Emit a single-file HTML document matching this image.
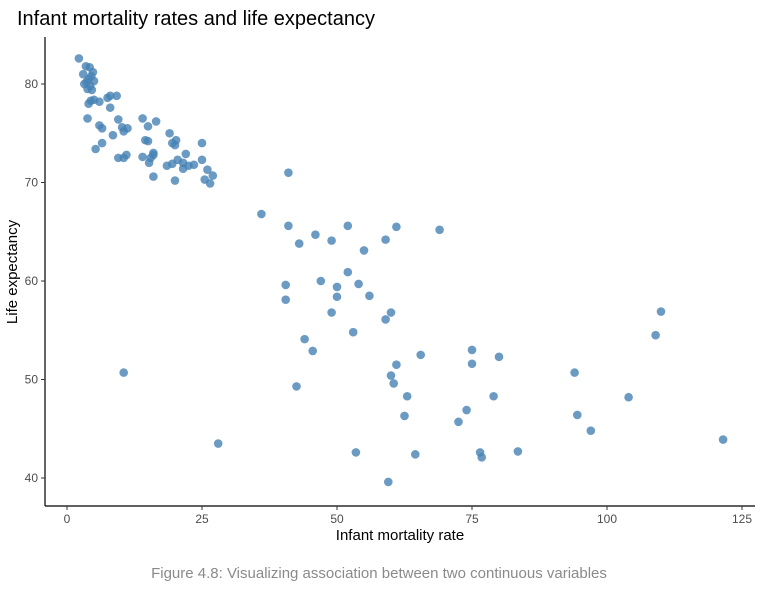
<!DOCTYPE html>
<html><head><meta charset="utf-8"><style>
body{margin:0;background:#fff;font-family:"Liberation Sans",sans-serif;}
svg text{font-family:"Liberation Sans",sans-serif;}
</style></head><body>
<svg id="chart" width="768" height="587" xmlns="http://www.w3.org/2000/svg">
<text x="17" y="25" font-size="20" fill="#000">Infant mortality rates and life expectancy</text>
<line x1="45" y1="37" x2="45" y2="506" stroke="#000" stroke-width="1.2"/>
<line x1="45" y1="506" x2="755" y2="506" stroke="#000" stroke-width="1.2"/>
<g id="xt"></g><g id="yt"></g><g id="pts"></g>
<text x="400" y="540" font-size="15" text-anchor="middle">Infant mortality rate</text>
<text transform="translate(17,272) rotate(-90)" font-size="15" text-anchor="middle">Life expectancy</text>
<text x="379" y="578" font-size="15" fill="#8a8a8a" text-anchor="middle">Figure 4.8: Visualizing association between two continuous variables</text>
</svg>
<script>
const xTicks=[0,25,50,75,100,125];
const yTicks=[40,50,60,70,80];
const infantMortality=[2.2,3,3.2,3.5,4,4.2,4.5,4.8,3.8,4.3,5,4.6,3.6,4,4.4,5,6,7.5,8,9.2,8,3.8,6,6.5,8.5,9.5,10.2,10.5,11.2,6.5,5.3,9.5,10.5,11,14,15,16.5,14.5,15,19,19.5,20,20.2,14,15.5,16,15.2,16,18.5,19.5,20.5,21.5,22,22.5,23.5,25,25,26,27,26.5,25.5,20,16,21.5,
41,36,41,46,52,61,69,43,49,59,55,40.5,47,52,50,40.5,50,54,56,49,60,59,53,44,45.5,65.5,75,80,61,75,60,60.5,42.5,63,79,74,62.5,72.5,53.5,64.5,76.5,76.8,83.5,59.5,28,10.5,94,94.5,97,104,109,110,121.5];
const lifeExpectancy=[82.6,81,80,81.8,80.5,81.7,80.8,81.2,79.5,79.8,80.3,79.4,80.2,78,78.3,78.4,78.2,78.6,78.8,78.8,77.6,76.5,75.8,75.5,74.8,76.4,75.6,75.2,75.5,74,73.4,72.5,72.5,72.8,76.5,75.7,76.2,74.3,74.2,75,74,73.8,74.3,72.6,72.5,73,72,72.8,71.7,71.9,72.3,72,72.9,71.7,71.8,74,72.3,71.3,70.7,69.9,70.3,70.2,70.6,71.4,
71,66.8,65.6,64.7,65.6,65.5,65.2,63.8,64.1,64.2,63.1,59.6,60,60.9,59.4,58.1,58.4,59.7,58.5,56.8,56.8,56.1,54.8,54.1,52.9,52.5,53,52.3,51.5,51.6,50.4,49.6,49.3,48.3,48.3,46.9,46.3,45.7,42.6,42.4,42.6,42.1,42.7,39.6,43.5,50.7,50.7,46.4,44.8,48.2,54.5,56.9,43.9];
const NS="http://www.w3.org/2000/svg";
const X=v=>67+v*5.4;
const Y=v=>84+(80-v)*9.85;
const xt=document.getElementById('xt'),yt=document.getElementById('yt'),pts=document.getElementById('pts');
xTicks.forEach(t=>{
 const l=document.createElementNS(NS,'line');
 
 
 l.setAttribute('x1',X(t));l.setAttribute('x2',X(t));l.setAttribute('y1',506);l.setAttribute('y2',510);l.setAttribute('stroke','#333');xt.appendChild(l);
 const s=document.createElementNS(NS,'text');
 
 
 s.setAttribute('x',X(t));s.setAttribute('y',523);s.setAttribute('font-size','12');s.setAttribute('fill','#4d4d4d');s.setAttribute('text-anchor','middle');s.textContent=t;xt.appendChild(s);
});
yTicks.forEach(t=>{
 const l=document.createElementNS(NS,'line');
 
 
 l.setAttribute('x1',41);l.setAttribute('x2',45);l.setAttribute('y1',Y(t));l.setAttribute('y2',Y(t));l.setAttribute('stroke','#333');yt.appendChild(l);
 const s=document.createElementNS(NS,'text');
 
 
 s.setAttribute('x',38);s.setAttribute('y',Y(t)+4);s.setAttribute('font-size','12');s.setAttribute('fill','#4d4d4d');s.setAttribute('text-anchor','end');s.textContent=t;yt.appendChild(s);
});
infantMortality.forEach((v,i)=>{
 const c=document.createElementNS(NS,'circle');
 
 
 c.setAttribute('cx',X(v));c.setAttribute('cy',Y(lifeExpectancy[i]));c.setAttribute('r',4.3);c.setAttribute('fill','#4682b4');c.setAttribute('fill-opacity','0.8');pts.appendChild(c);
});
</script>
</body></html>
